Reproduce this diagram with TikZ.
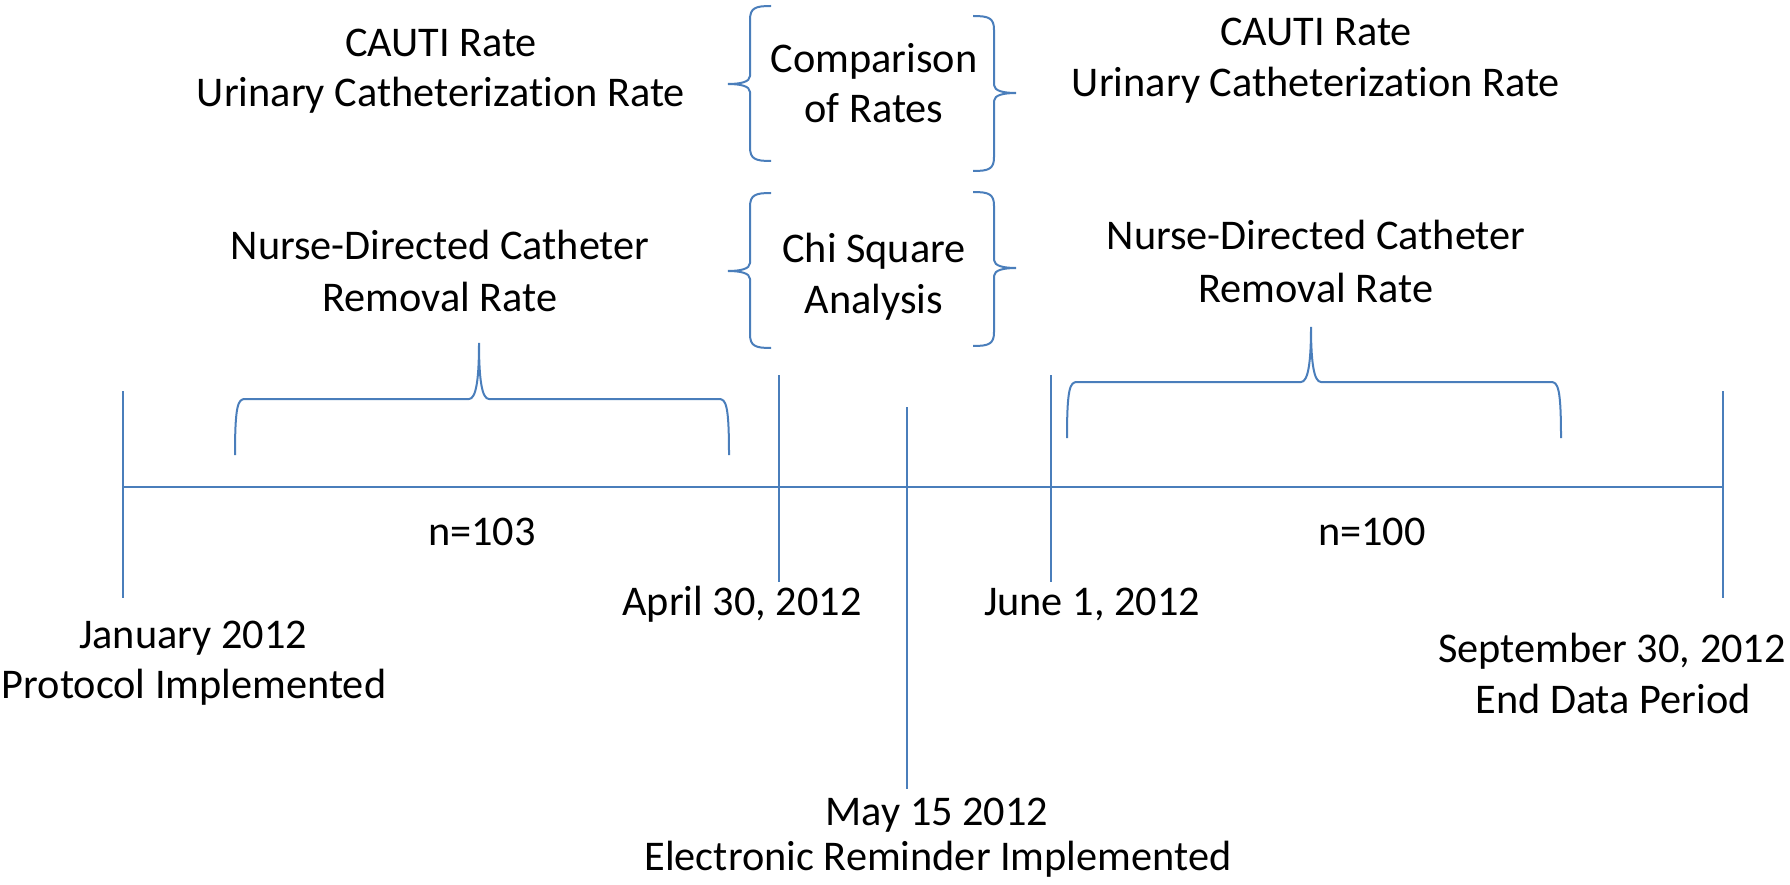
\documentclass[tikz,border=0pt]{standalone}
\usepackage{fontspec}
\setmainfont[Ligatures={NoCommon,NoContextual}]{Carlito}
\definecolor{lineblue}{RGB}{74,126,187}
\tikzset{
  lbl/.style={anchor=base, inner sep=0pt, font=\fontsize{42.3}{50}\selectfont, text=black},
  tick/.style={draw=lineblue, line width=2pt},
  brace/.style={draw=lineblue, line width=2pt}
}
\begin{document}
\begin{tikzpicture}[x=1pt, y=-1pt]
\useasboundingbox (0,0) rectangle (1790,885);
% timeline coordinates
\coordinate (L0) at (123,487);
\coordinate (L1) at (1723,487);
\coordinate (janT) at (123,391); \coordinate (janB) at (123,598);
\coordinate (aprT) at (779,375); \coordinate (aprB) at (779,582);
\coordinate (mayT) at (907,407); \coordinate (mayB) at (907,789);
\coordinate (junT) at (1051,375); \coordinate (junB) at (1051,582);
\coordinate (sepT) at (1723,391); \coordinate (sepB) at (1723,598);
\draw[tick] (L0) -- (L1);
\draw[tick] (janT) -- (janB);
\draw[tick] (aprT) -- (aprB);
\draw[tick] (mayT) -- (mayB);
\draw[tick] (junT) -- (junB);
\draw[tick] (sepT) -- (sepB);
% lower braces
\draw[brace] (235,455) .. controls (235,405) and (238,399) .. (245,399) -- (469,399)
  .. controls (476,399) and (479,380) .. (479,343)
  .. controls (479,380) and (482,399) .. (489,399) -- (719,399)
  .. controls (726,399) and (729,405) .. (729,455);
\draw[brace] (1067,438) .. controls (1067,388) and (1070,382) .. (1077,382) -- (1301,382)
  .. controls (1308,382) and (1311,363) .. (1311,327)
  .. controls (1311,363) and (1314,382) .. (1321,382) -- (1551,382)
  .. controls (1558,382) and (1561,388) .. (1561,438);
% top braces
\draw[brace] (771,6) .. controls (755,6) and (750,8) .. (750,20) -- (750,76)
  .. controls (750,82) and (740,84) .. (728,84)
  .. controls (740,84) and (750,86) .. (750,92) -- (750,147)
  .. controls (750,159) and (755,161) .. (771,161);
\draw[brace] (973,16) .. controls (989,16) and (994,18) .. (994,30) -- (994,85)
  .. controls (994,91) and (1004,93) .. (1016,93)
  .. controls (1004,93) and (994,95) .. (994,101) -- (994,157)
  .. controls (994,169) and (989,171) .. (973,171);
\draw[brace] (771,193) .. controls (755,193) and (750,195) .. (750,207) -- (750,263)
  .. controls (750,269) and (740,271) .. (728,271)
  .. controls (740,271) and (750,273) .. (750,279) -- (750,334)
  .. controls (750,346) and (755,348) .. (771,348);
\draw[brace] (973,192) .. controls (989,192) and (994,194) .. (994,206) -- (994,260)
  .. controls (994,266) and (1004,268) .. (1016,268)
  .. controls (1004,268) and (994,270) .. (994,276) -- (994,332)
  .. controls (994,344) and (989,346) .. (973,346);
% texts
\node[lbl] (cl1) at (441,57) {CAUTI Rate};
\node[lbl] (cl2) at (441,107) {Urinary Catheterization Rate};
\node[lbl] (cr1) at (1316,46) {CAUTI Rate};
\node[lbl] (cr2) at (1316,97) {Urinary Catheterization Rate};
\node[lbl] (cm1) at (874,73) {Comparison};
\node[lbl] (cm2) at (874,123) {of Rates};
\node[lbl] (ch1) at (874,263) {Chi Square};
\node[lbl] (ch2) at (874,313) {Analysis};
\node[lbl] (nl1) at (440,260) {Nurse-Directed Catheter};
\node[lbl] (nl2) at (440,311) {Removal Rate};
\node[lbl] (nr1) at (1316,250) {Nurse-Directed Catheter};
\node[lbl] (nr2) at (1316,302) {Removal Rate};
\node[lbl] (n103) at (482,545) {n=103};
\node[lbl] (n100) at (1372,545) {n=100};
\node[lbl] (apr) at (742,615) {April 30, 2012};
\node[lbl] (jun) at (1092,615) {June 1, 2012};
\node[lbl] (jan1) at (193,648) {January 2012};
\node[lbl] (jan2) at (194,698) {Protocol Implemented};
\node[lbl] (sep1) at (1612,662) {September 30, 2012};
\node[lbl] (sep2) at (1613,713) {End Data Period};
\node[lbl] (may1) at (937,825) {May 15 2012};
\node[lbl] (may2) at (938,870) {Electronic Reminder Implemented};
\end{tikzpicture}
\end{document}
